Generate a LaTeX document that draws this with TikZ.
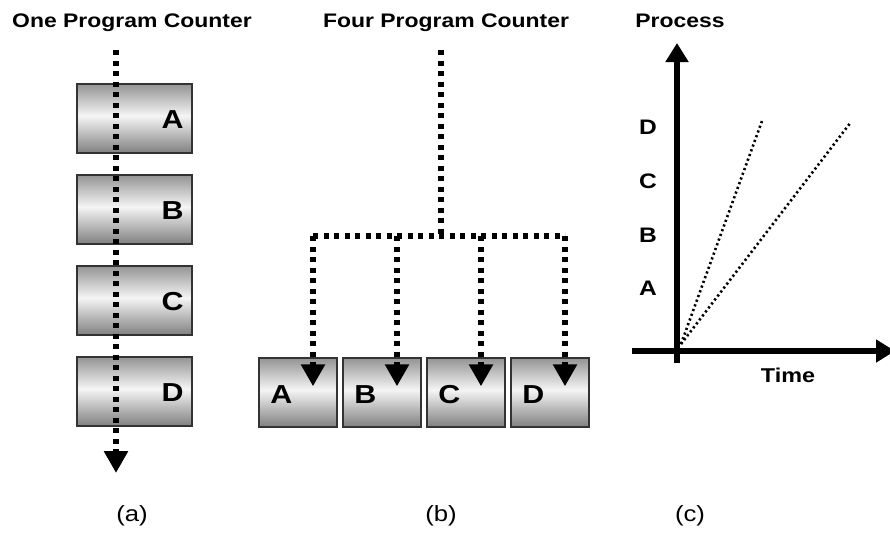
\documentclass[tikz,border=0pt]{standalone}
\usepackage{fontspec}
\setmainfont{Liberation Sans}[FakeStretch=1.17]
\usetikzlibrary{arrows.meta,calc}

% grey-white-grey band used to fill the process boxes
\pgfdeclareverticalshading{procshade}{100bp}{%
  color(0bp)=(black!50); color(25bp)=(black!50);
  color(52bp)=(black!4);
  color(75bp)=(black!42); color(100bp)=(black!42)}

\tikzset{
  procbox/.style={draw=black!80, line width=1.4pt, shading=procshade,
    inner sep=0pt, minimum height=69pt},
  boxlbl/.style={font=\fontsize{26}{28}\selectfont\bfseries, inner sep=0pt},
  title/.style={font=\fontsize{19.6}{22}\selectfont\bfseries, inner sep=0pt, anchor=base},
  axlbl/.style={font=\fontsize{21}{24}\selectfont\bfseries, inner sep=0pt, anchor=base},
  caption/.style={font=\fontsize{22}{24}\selectfont, inner sep=0pt, anchor=base},
  pcline/.style={line width=5.5pt, dash pattern=on 5pt off 5.5pt},
  pctip/.style={-{Triangle[width=23pt,length=22pt]}},
  axis/.style={line width=6.5pt, -{Triangle[width=22pt,length=19pt]}},
  rate/.style={line width=2.6pt, dash pattern=on 2.2pt off 2.8pt},
}

\begin{document}
\begin{tikzpicture}[x=1pt,y=-1pt]
\useasboundingbox (0,0) rectangle (890,539);

% ---------------- (a) one program counter ----------------
\node[title] (ta) at (132,27) {One Program Counter};
\foreach \n/\l/\y in {1/A/118.5, 2/B/209.5, 3/C/300.5, 4/D/391.5}{
  \node[procbox, minimum width=115pt] (a\n) at (134.5,\y) {};
  \node[boxlbl] (la\n) at ($(a\n.east)+(-20,1)$) {\l};
}
\coordinate (pcA) at (116,50);
\coordinate (endA) at (116,473);
\draw[pcline, pctip] (pcA) -- (endA);
\node[caption] (ca) at (132,521) {(a)};

% ---------------- (b) four program counters ----------------
\node[title] (tb) at (446,27) {Four Program Counter};
\foreach \n/\l/\x in {1/A/298, 2/B/382, 3/C/466, 4/D/550}{
  \node[procbox, minimum width=78pt] (b\n) at (\x,392.5) {};
  \node[boxlbl] (lb\n) at ($(b\n.west)+(23,2)$) {\l};
  \coordinate (tip\n) at ($(b\n.north)+(15,29)$);
}
\coordinate (pcB) at (441,50);
\coordinate (jB) at (441,236);
\coordinate (hL) at (tip1 |- jB);
\coordinate (hR) at (tip4 |- jB);
\draw[pcline] (pcB) -- (jB);
\draw[pcline] (hL) -- (hR);
\foreach \n in {1,...,4}{
  \draw[pcline, pctip] (tip\n |- jB) -- (tip\n);
}
\node[caption] (cb) at (441,521) {(b)};

% ---------------- (c) progress over time ----------------
\node[title] (tc) at (680,27) {Process};
\coordinate (yb) at (677,363);
\coordinate (yt) at (677,43);
\coordinate (xl) at (632,351);
\coordinate (xr) at (895,351);
\draw[axis] (yb) -- (yt);
\draw[axis] (xl) -- (xr);
\node[axlbl] (pD) at (648,134) {D};
\node[axlbl] (pC) at (648,188) {C};
\node[axlbl] (pB) at (648,242) {B};
\node[axlbl] (pA) at (648,295) {A};
\node[title, font=\fontsize{20}{22}\selectfont\bfseries] (tt) at (788,382) {Time};
\coordinate (s0) at (681,344);
\coordinate (e1) at (762,121);
\coordinate (e2) at (851,122);
\draw[rate] (s0) -- (e1);
\draw[rate] (s0) -- (e2);
\node[caption] (cc) at (690,521) {(c)};
\end{tikzpicture}
\end{document}
